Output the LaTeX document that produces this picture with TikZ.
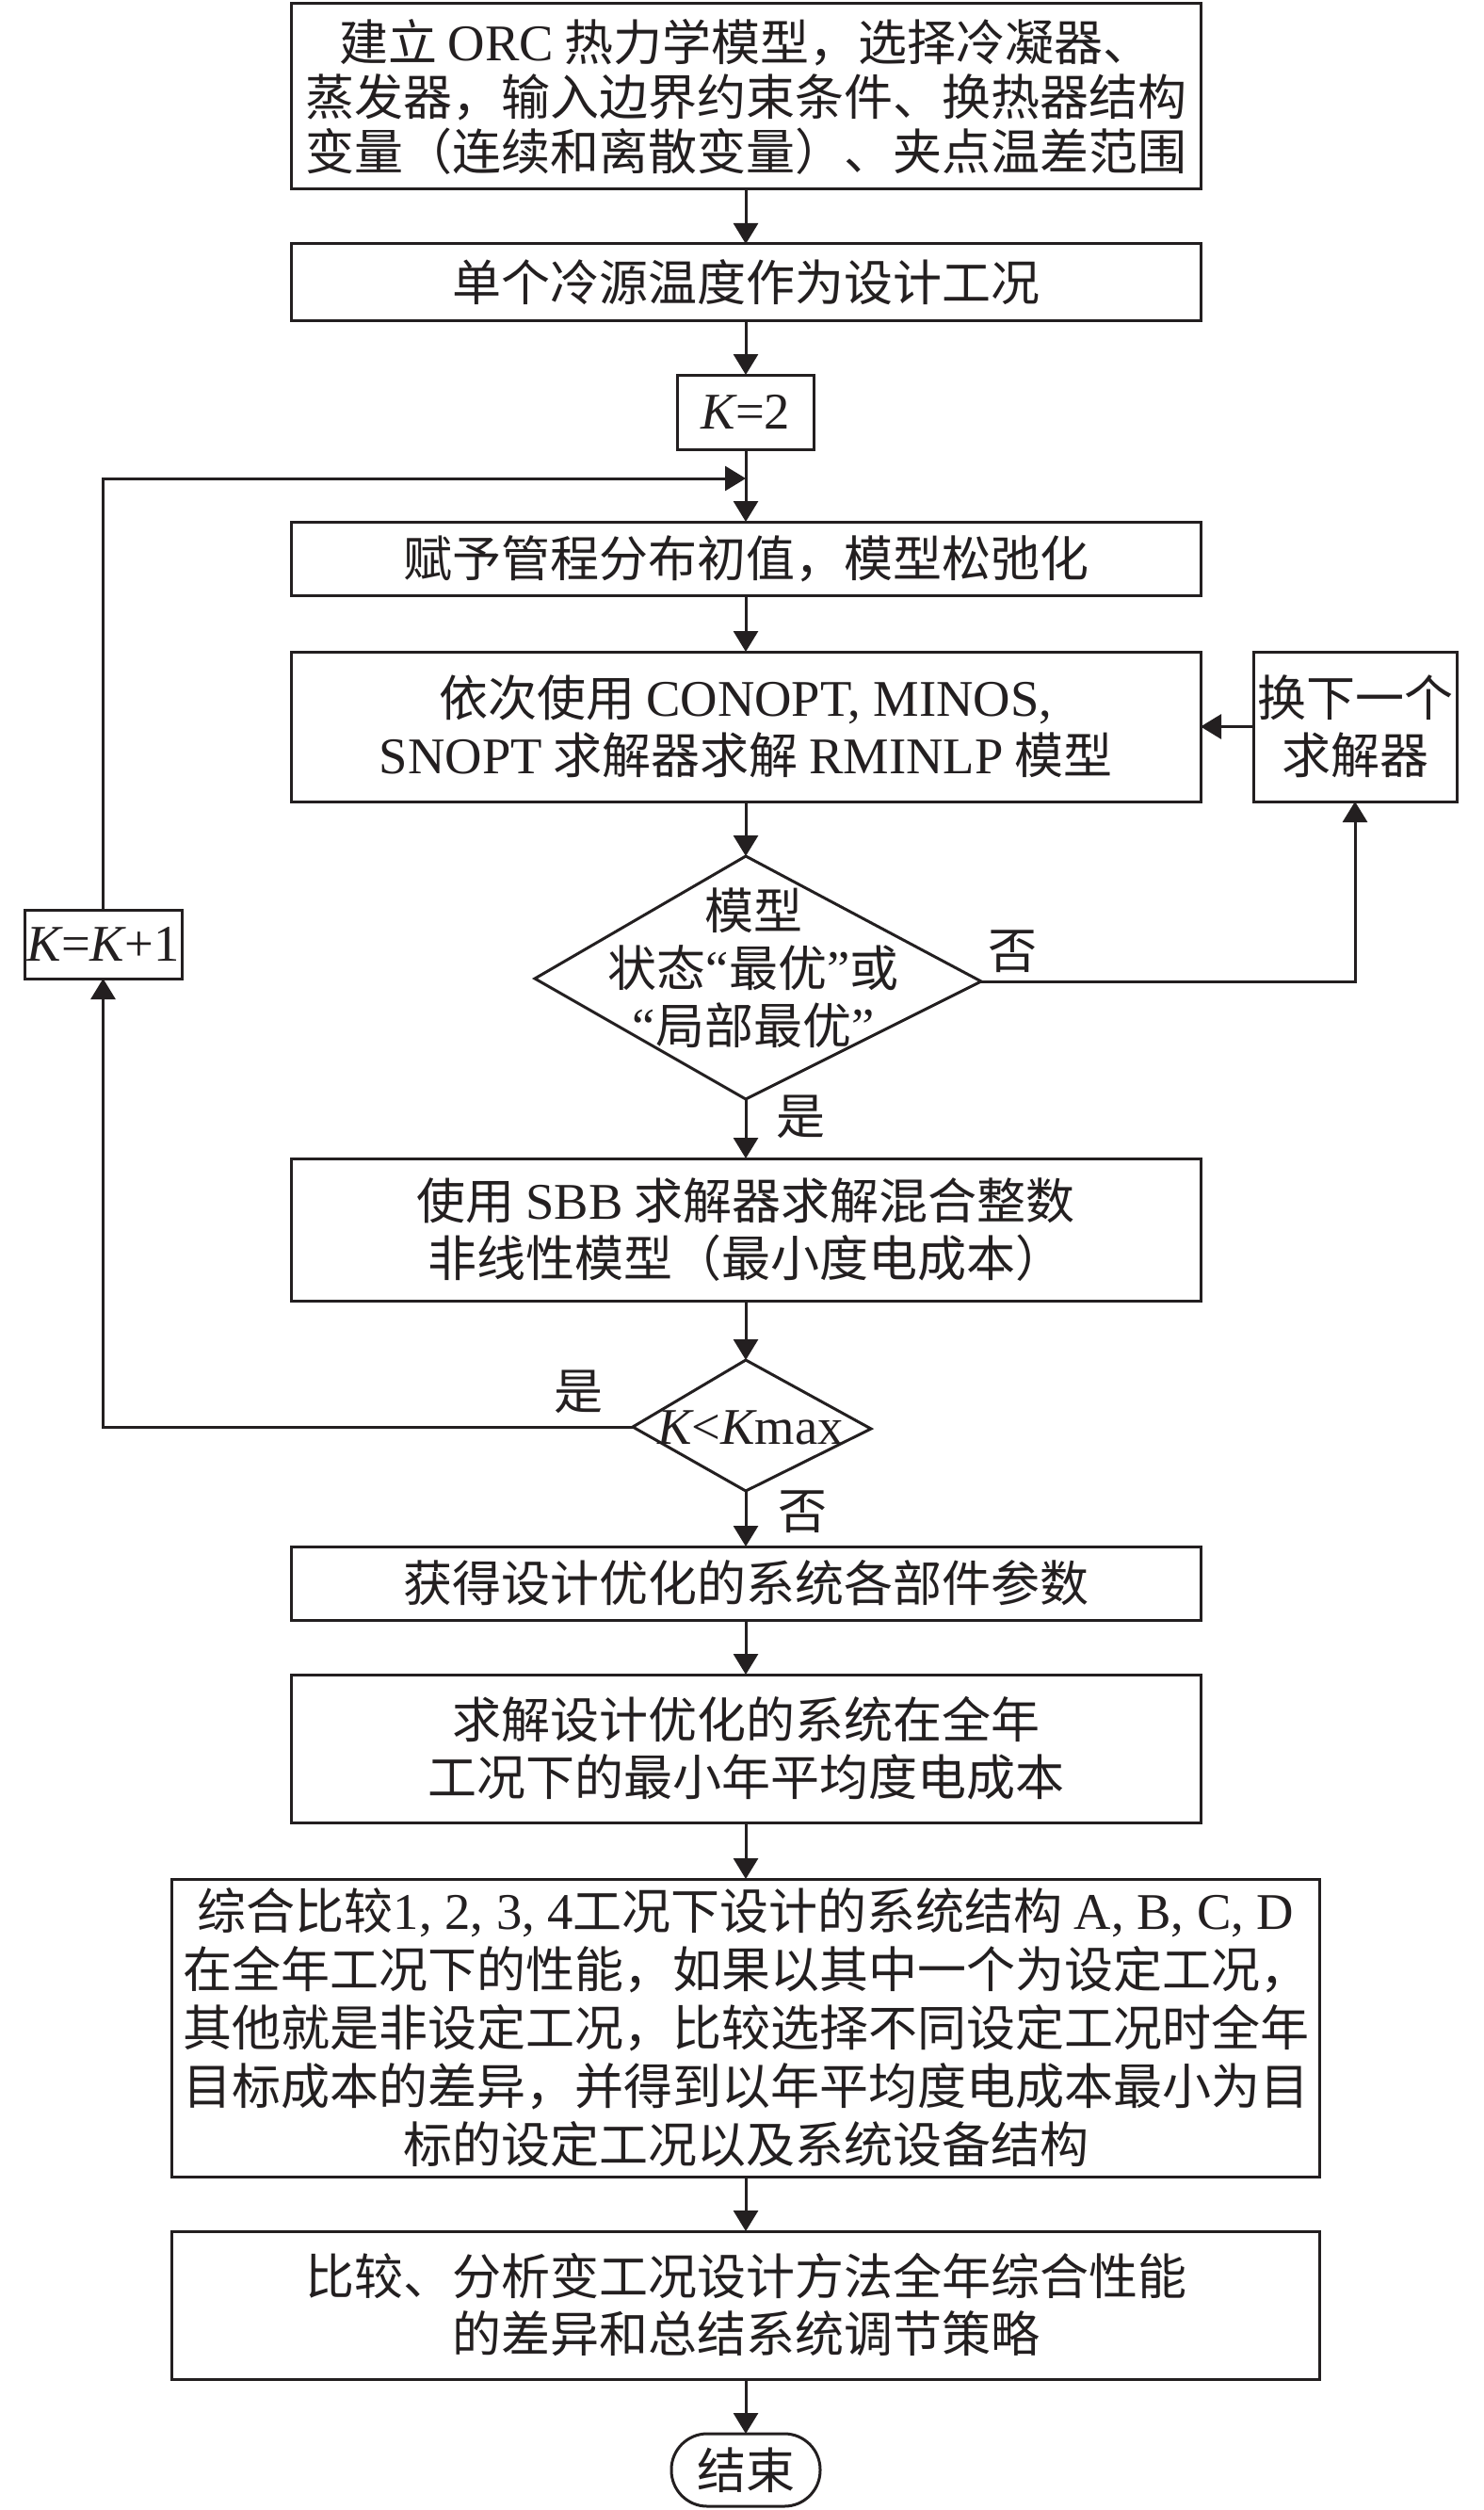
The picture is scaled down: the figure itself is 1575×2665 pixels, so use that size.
\documentclass[tikz,border=0pt]{standalone}
\usepackage{fontspec}
\setmainfont{Noto Sans CJK SC}
\newfontfamily\latf[Scale=1.05]{Liberation Serif}
\usetikzlibrary{arrows.meta,shapes.geometric,calc}
\definecolor{ink}{RGB}{35,31,32}
\newcommand\LA[1]{{\latf #1}}
\newcommand\KI{{\latf\itshape K}}
\begin{document}
\begin{tikzpicture}[x=1pt,y=-1pt,
  every node/.style={inner sep=0pt, outer sep=0pt, text=ink},
  box/.style={draw=ink, line width=3pt, rectangle, align=center,
    font=\fontsize{52pt}{61pt}\selectfont},
  mainbox/.style={box, minimum width=966pt},
  widebox/.style={box, minimum width=1219pt},
  arr/.style={draw=ink, line width=3pt, -{Triangle[length=22pt,width=26pt]}},
  dline/.style={draw=ink, line width=3pt, line join=miter},
  lbl/.style={font=\fontsize{52pt}{60pt}\selectfont},
  dtext/.style={align=center, font=\fontsize{52pt}{61pt}\selectfont}
]
\useasboundingbox[fill=white] (0,0) rectangle (1575,2665);

% main column boxes
\node[mainbox, minimum height=197pt, font=\fontsize{52pt}{58pt}\selectfont] (b1) at (792,102.5)
  {建立 \LA{ORC} 热力学模型，选择冷凝器、\\蒸发器，输入边界约束条件、换热器结构\\变量（连续和离散变量）、夹点温差范围};
\node[mainbox, minimum height=81pt] (b2) at (792,299.5) {单个冷源温度作为设计工况};
\node[box, minimum width=145pt, minimum height=79pt] (k2) at (792,437.5) {\KI\LA{=2}};
\coordinate (j) at (792,508);
\node[mainbox, minimum height=78pt] (b3) at (792,593) {赋予管程分布初值，模型松弛化};
\node[mainbox, minimum height=159pt] (b4) at (792,771.5)
  {依次使用 \LA{CONOPT, MINOS,}\\\LA{SNOPT} 求解器求解 \LA{RMINLP} 模型};
\node[box, minimum width=216pt, minimum height=159pt] (nx) at (1439,771.5) {换下一个\\求解器};

% decision 1
\coordinate (d1n) at (792,909);
\coordinate (d1e) at (1042,1042);
\coordinate (d1s) at (792,1167);
\coordinate (d1w) at (568,1039);
\draw[dline] (d1n) -- (d1e) -- (d1s) -- (d1w) -- cycle;
\node[dtext] (d1t) at (800,1028) {模型\\状态\LA{“}最优\LA{”}或\\\LA{“}局部最优\LA{”}};

\node[mainbox, minimum height=151pt] (b5) at (792,1305.5)
  {使用 \LA{SBB} 求解器求解混合整数\\非线性模型（最小度电成本）};

% decision 2
\coordinate (d2n) at (792,1444);
\coordinate (d2e) at (925,1517);
\coordinate (d2s) at (792,1583);
\coordinate (d2w) at (672,1515);
\draw[dline] (d2n) -- (d2e) -- (d2s) -- (d2w) -- cycle;
\node[dtext] (d2t) at (797,1516) {\KI\LA{<}\KI\LA{max}};

\node[box, minimum width=167pt, minimum height=73pt] (kk) at (109.5,1002.5) {\KI\LA{=}\KI\LA{+1}};

\node[mainbox, minimum height=78pt] (b6) at (792,1681) {获得设计优化的系统各部件参数};
\node[mainbox, minimum height=157pt] (b7) at (792,1856.5)
  {求解设计优化的系统在全年\\工况下的最小年平均度电成本};
\node[widebox, minimum height=316pt, font=\fontsize{52pt}{62pt}\selectfont] (b8) at (792,2153)
  {综合比较\LA{1, 2, 3, 4}工况下设计的系统结构 \LA{A, B, C, D}\\在全年工况下的性能，如果以其中一个为设定工况，\\其他就是非设定工况，比较选择不同设定工况时全年\\目标成本的差异，并得到以年平均度电成本最小为目\\标的设定工况以及系统设备结构};
\node[widebox, minimum height=157pt] (b9) at (792,2447.5)
  {比较、分析变工况设计方法全年综合性能\\的差异和总结系统调节策略};
\node[box, rounded corners=38pt, minimum width=158pt, minimum height=77pt] (end) at (792,2622.5) {结束};

% connectors
\draw[arr] (b1.south) -- (b2.north);
\draw[arr] (b2.south) -- (k2.north);
\draw[arr] (k2.south) -- (b3.north);
\draw[arr] (b3.south) -- (b4.north);
\draw[arr] (nx.west) -- (b4.east);
\draw[arr] (b4.south) -- (d1n);
\draw[arr] (d1e) -| (nx.south);
\draw[arr] (d1s) -- (b5.north);
\draw[arr] (b5.south) -- (d2n);
\draw[arr] (d2s) -- (b6.north);
\draw[arr] (d2w) -| (kk.south);
\draw[arr] (kk.north) |- (j);
\draw[arr] (b6.south) -- (b7.north);
\draw[arr] (b7.south) -- (b8.north);
\draw[arr] (b8.south) -- (b9.north);
\draw[arr] (b9.south) -- (end.north);

% labels
\node[lbl] (no1) at (1075,1010) {否};
\node[lbl] (yes1) at (850,1186) {是};
\node[lbl] (yes2) at (614,1478) {是};
\node[lbl] (no2) at (852,1605) {否};
\end{tikzpicture}
\end{document}
